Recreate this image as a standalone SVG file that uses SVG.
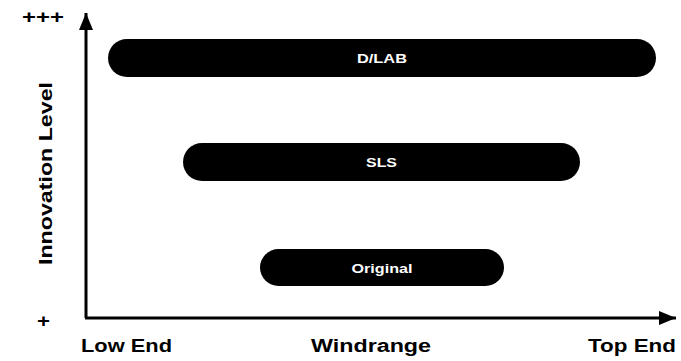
<svg xmlns="http://www.w3.org/2000/svg" width="681" height="361" viewBox="0 0 681 361">
<style>
.ax{font-family:"Liberation Sans",Arial,sans-serif;font-weight:bold;font-size:18px;fill:#000}
.bar{fill:#000}
.bl{font-family:"Liberation Sans",Arial,sans-serif;font-weight:bold;font-size:13.5px;fill:#fff;text-anchor:middle}
.axis{stroke:#000;stroke-width:3;fill:none}
</style>
<defs>
<marker id="ah" markerWidth="17" markerHeight="14" refX="17" refY="7" orient="auto" markerUnits="userSpaceOnUse">
<path d="M0,0 L17,7 L0,14 Z" fill="#000"/>
</marker>
</defs>
<rect width="681" height="361" fill="#fff"/>
<g id="connectors">
<path class="axis" d="M86,318 L86,13" marker-end="url(#ah)"/>
<path class="axis" d="M85,318 L676,318" marker-end="url(#ah)"/>
</g>
<g id="axis-labels">
<text class="ax" x="22" y="23" textLength="42" lengthAdjust="spacingAndGlyphs">+++</text>
<text class="ax" x="37" y="327" textLength="13" lengthAdjust="spacingAndGlyphs">+</text>
<text class="ax" x="81" y="352" textLength="91" lengthAdjust="spacingAndGlyphs">Low End</text>
<text class="ax" x="311" y="352" textLength="120" lengthAdjust="spacingAndGlyphs">Windrange</text>
<text class="ax" x="588" y="352" textLength="88" lengthAdjust="spacingAndGlyphs">Top End</text>
<text class="ax" transform="translate(52,265) rotate(-90)" x="0" y="0" textLength="183" lengthAdjust="spacingAndGlyphs">Innovation Level</text>
</g>
<g id="dlab">
<rect class="bar" x="108" y="39" width="548" height="38" rx="19"/>
<text class="bl" x="382" y="63" textLength="50" lengthAdjust="spacingAndGlyphs">D/LAB</text>
</g>
<g id="sls">
<rect class="bar" x="183" y="143" width="397" height="38" rx="19"/>
<text class="bl" x="381.5" y="167" textLength="31" lengthAdjust="spacingAndGlyphs">SLS</text>
</g>
<g id="original">
<rect class="bar" x="260" y="249" width="244" height="37" rx="18.5"/>
<text class="bl" x="382" y="273" textLength="61" lengthAdjust="spacingAndGlyphs">Original</text>
</g>
</svg>
